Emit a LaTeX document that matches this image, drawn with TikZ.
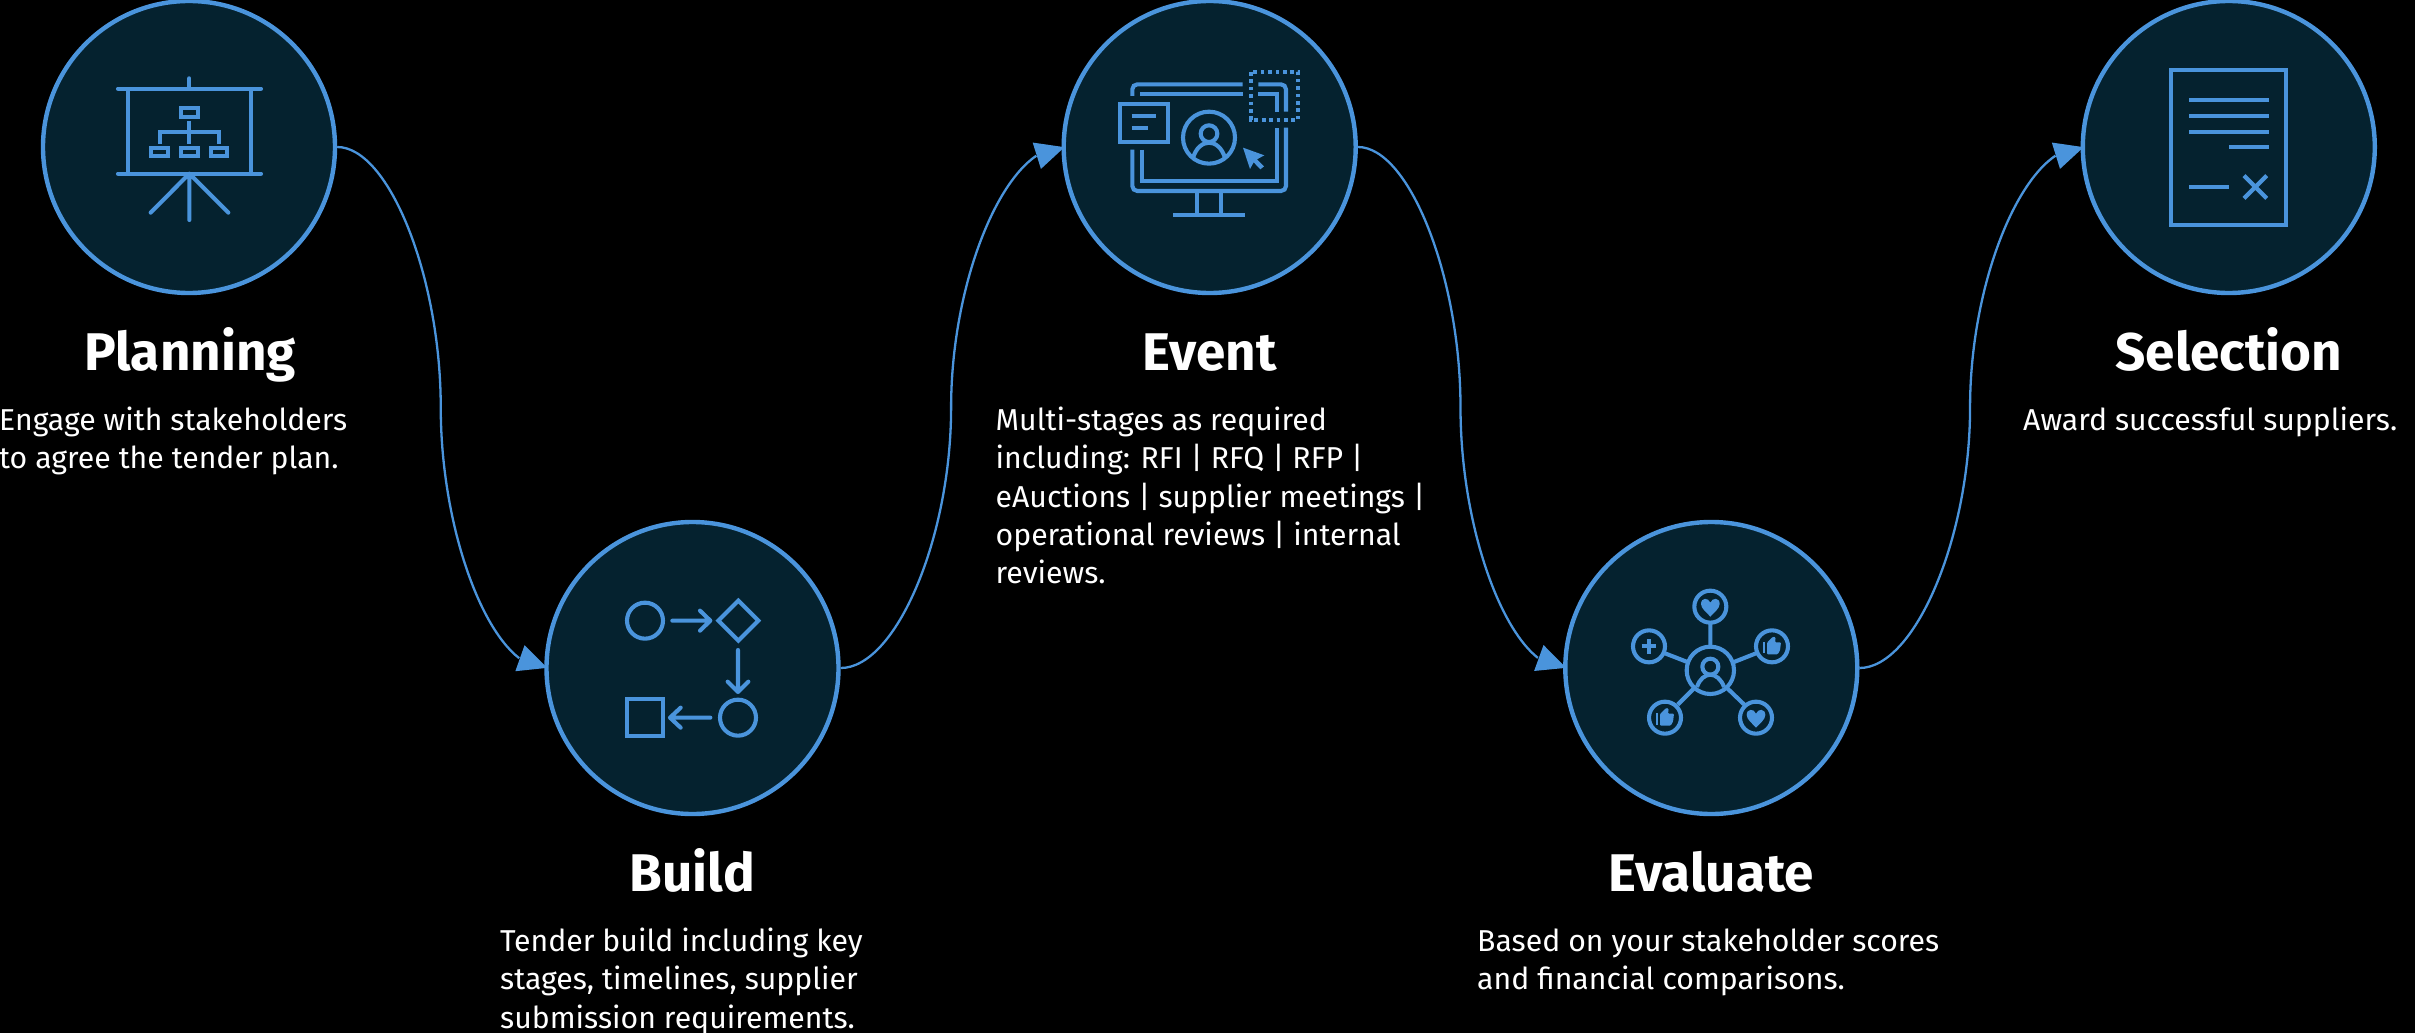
\documentclass[tikz,border=0pt]{standalone}
\usepackage{fontspec}
\setmainfont{Fira Sans}
\usetikzlibrary{arrows.meta,bending,calc}
\definecolor{accent}{HTML}{4A94DC}
\definecolor{disc}{HTML}{05222F}
\tikzset{
  stage/.style={circle,draw=accent,fill=disc,line width=4.4pt,minimum size=292pt,inner sep=0pt},
  conn/.style={draw=accent,line width=2.3pt,shorten >=-3pt,-{Triangle[length=29pt,width=27pt,flex=1,fill=accent]}},
  title/.style={anchor=base,text=white,inner sep=0pt,font=\fontsize{53}{60}\selectfont\bfseries},
  body/.style={anchor=north west,text=white,inner sep=0pt,align=left,font=\fontsize{30.2}{38.3}\selectfont},
  ico/.style={draw=accent,line width=4.1pt,fill=none},
  rnd/.style={ico,line cap=round,line join=round},
  solid fill/.style={fill=accent,draw=none},
}
\newcommand{\firstline}{\rule{0pt}{24pt}}
% PowerPoint-style curved connector between two stages
\newcommand{\scurve}[2]{%
  \path let \p1=(#1.east),\p2=(#2.west) in
    coordinate (m) at ({0.5*\x1+0.5*\x2},{0.5*\y1+0.5*\y2});
  \draw[conn] let \p1=(#1.east),\p2=(#2.west),\p3=(m) in
    (#1.east) .. controls ({0.75*\x1+0.25*\x2},\y1) and (\x3,{0.75*\y1+0.25*\y2}) .. (m)
    .. controls (\x3,{0.25*\y1+0.75*\y2}) and ({0.25*\x1+0.75*\x2},\y2) .. (#2.west);}
\newcommand{\heartat}[2]{\fill[solid fill,shift={(#1,#2)}] (0,28) .. controls (-10,16) and (-28,4) .. (-28,-10)
   .. controls (-28,-30) and (-6,-30) .. (0,-14) .. controls (6,-30) and (28,-30) .. (28,-10)
   .. controls (28,4) and (10,16) .. (0,28) -- cycle;}
\newcommand{\thumbat}[2]{\fill[solid fill,shift={(#1,#2)}] (-27,-14) rectangle (-21,21);
   \fill[solid fill,shift={(#1,#2)},rounded corners=1pt] (-15,-11) -- (3,-29) -- (11,-27) -- (9,-12) -- (27,-12) -- (24,12) -- (17,24) -- (-15,24) -- cycle;}
\begin{document}
\begin{tikzpicture}[x=1pt,y=-1pt]
\useasboundingbox (0,0) rectangle (2415,1033);
\fill[black] (0,0) rectangle (2415,1033);

\node[stage] (plan) at (189,147) {};
\node[stage] (build) at (692.5,668) {};
\node[stage] (event) at (1209.7,147) {};
\node[stage] (eval) at (1711.3,668) {};
\node[stage] (sel) at (2228.8,147) {};

\scurve{plan}{build}
\scurve{build}{event}
\scurve{event}{eval}
\scurve{eval}{sel}

\node[title] (tplan) at (190,370.8) {Planning};
\node[title] (tbuild) at (692.5,891.8) {Build};
\node[title] (tevent) at (1209.7,370.8) {Event};
\node[title] (teval) at (1711.3,891.8) {Evaluate};
\node[title] (tsel) at (2228.8,370.8) {Selection};

\node[body] (bplan) at (-1,406.3) {\firstline Engage with stakeholders\\to agree the tender plan.};
\node[body] (bbuild) at (500,927.3) {\firstline Tender build including key\\stages, timelines, supplier\\submission requirements.};
\node[body] (bevent) at (995.5,406.3) {\firstline Multi-stages as required\\including: RFI | RFQ | RFP |\\eAuctions | supplier meetings |\\operational reviews | internal\\reviews.};
\node[body] (beval) at (1477,927.3) {\firstline Based on your stakeholder scores\\and financial comparisons.};
\node[body] (bsel) at (2023,406.3) {\firstline Award successful suppliers.};

% Planning icon
\begin{scope}[scale=1/3]
  \draw[rnd] (568,235) -- (568,266);
  \draw[rnd] (354,266) -- (783,266);
  \draw[rnd] (354,521) -- (783,521);
  \draw[ico] (384,266) -- (384,521) (753,266) -- (753,521);
  \draw[ico] (544,325) rectangle (593,350);
  \draw[ico] (454,443) rectangle (504,468) (544,443) rectangle (593,468) (633,443) rectangle (682,468);
  \draw[ico] (568,362) -- (568,432) (479,432) -- (479,396) -- (657,396) -- (657,432);
  \draw[rnd] (452,638) -- (568,521) -- (685,638) (568,521) -- (568,660);
\end{scope}

% Build icon
\begin{scope}[shift={(530,510)},scale=1/3]
  \draw[ico] (345,332) circle (54);
  \draw[rnd] (427,332) -- (538,332) (510,302) -- (541,332) -- (510,362);
  \draw[ico] (625,272) -- (685,332) -- (625,392) -- (565,332) -- cycle;
  \draw[rnd] (624,420) -- (624,544) (593,515) -- (624,546) -- (655,515);
  \draw[ico] (624,623) circle (54);
  \draw[ico] (290,568) rectangle (400,678);
  \draw[rnd] (541,623) -- (422,623) (452,593) -- (420,623) -- (452,653);
\end{scope}

% Event icon
\begin{scope}[shift={(1040,0)},scale=1/3]
  \draw[ico,rounded corners=5pt] (608,253) -- (277,253) -- (277,288);
  \draw[ico] (300,283) -- (608,283);
  \draw[ico,rounded corners=5pt] (655,253) -- (738,253) -- (738,335);
  \draw[ico] (655,283) -- (710,283) -- (710,335);
  \draw[ico,rounded corners=5pt] (277,449) -- (277,573) -- (738,573) -- (738,383);
  \draw[ico] (305,449) -- (305,544) -- (710,544) -- (710,383);
  \draw[ico] (472,578) -- (472,645) (543,578) -- (543,645) (400,645) -- (614,645);
  \draw[ico] (240,312) rectangle (383,426);
  \draw[ico] (275,348) -- (348,348) (275,383) -- (323,383);
  \draw[ico] (507,413) circle (78);
  \draw[ico] (507,401) circle (25);
  \draw[ico] (459,474) .. controls (468,443) and (488,428) .. (507,428) .. controls (526,428) and (546,443) .. (555,474);
  \fill[solid fill] (609,443) -- (673,466) -- (651,478) -- (672,499) -- (661,508) -- (641,487) -- (630,507) -- cycle;
  \draw[ico,dash pattern=on 3.7pt off 3.7pt] (632,216) rectangle (775,360);
\end{scope}

% Evaluate icon
\begin{scope}[shift={(1550,510)},scale=1/3]
  \draw[ico] (481,481) circle (71);
  \draw[ico] (481,470) circle (24);
  \draw[ico] (441,531) .. controls (448,508) and (465,494) .. (481,494) .. controls (497,494) and (514,508) .. (522,531);
  \draw[ico] (481,290) circle (48) (297,409) circle (48) (666,409) circle (48) (345,623) circle (48) (618,623) circle (48);
  \draw[ico] (481,342) -- (481,405) (345,430) -- (412,456) (618,430) -- (552,456) (383,584) -- (432,535) (583,584) -- (532,535);
  \draw[ico] (297,387) -- (297,431) (275,409) -- (319,409);
  \heartat{481}{292}
  \heartat{618}{625}
  \thumbat{666}{409}
  \thumbat{345}{623}
\end{scope}

% Selection icon
\begin{scope}[shift={(2070,0)},scale=1/3]
  \draw[ico] (304,210) rectangle (649,674);
  \draw[ico] (358,300) -- (596,300) (358,347) -- (596,347) (358,395) -- (596,395) (477,442) -- (596,442) (358,561) -- (477,561);
  \draw[ico] (522,527) -- (590,595) (590,527) -- (522,595);
\end{scope}
\end{tikzpicture}
\end{document}
